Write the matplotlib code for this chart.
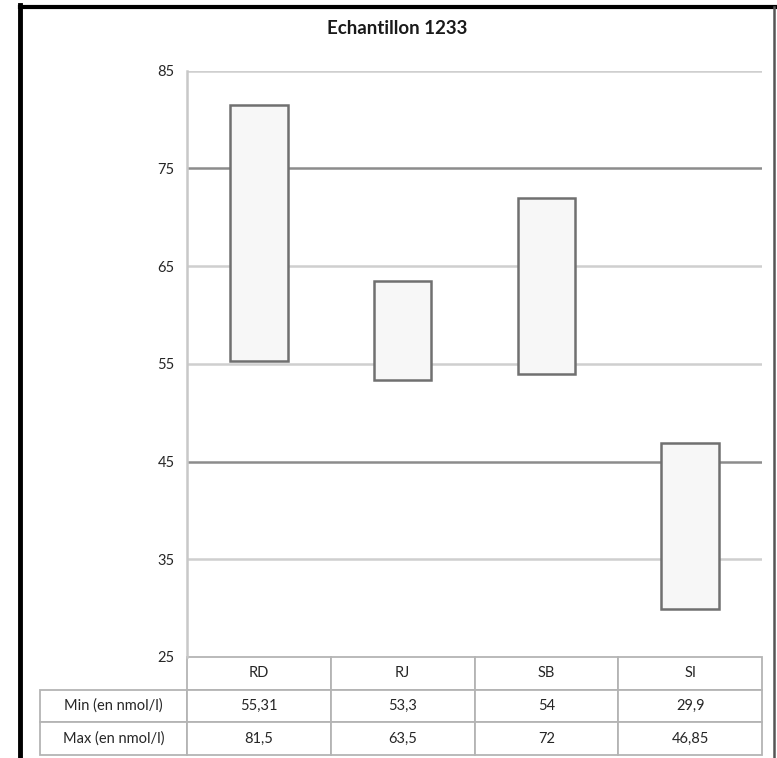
import matplotlib.pyplot as plt
from matplotlib.lines import Line2D

plt.rcParams['font.family'] = ['Lato', 'DejaVu Sans']

# data
categories = ['RD', 'RJ', 'SB', 'SI']
min_values = [55.31, 53.3, 54, 29.9]
max_values = [81.5, 63.5, 72, 46.85]
min_labels = ['55,31', '53,3', '54', '29,9']
max_labels = ['81,5', '63,5', '72', '46,85']
row_labels = ['Min (en nmol/l)', 'Max (en nmol/l)']
y_ticks = [25, 35, 45, 55, 65, 75, 85]

W, H = 777, 758
fig = plt.figure(figsize=(W / 100, H / 100), dpi=100)

# plot area in pixels
left, right, top, bottom = 187, 762, 70.7, 657
ax = fig.add_axes([left / W, 1 - bottom / H, (right - left) / W, (bottom - top) / H])

x = range(len(categories))
heights = [mx - mn for mn, mx in zip(min_values, max_values)]
ax.bar(x, heights, bottom=min_values, width=0.4, color='#f7f7f7',
       edgecolor='#707070', linewidth=1.8, zorder=3)

ax.set_xlim(-0.5, len(categories) - 0.5)
ax.set_ylim(25, 85)

# gridlines (75 and 45 look darker in the original)
for t in y_ticks[1:]:
    col = '#8c8c8c' if t in (45, 75) else '#cfcfcf'
    ax.axhline(t, color=col, linewidth=1.8, zorder=1)

ax.set_yticks(y_ticks)
ax.set_yticklabels([str(t) for t in y_ticks], fontsize=10.5, color='#262626')
ax.tick_params(axis='y', length=0, pad=9)
ax.set_xticks([])
for s in ['top', 'right', 'bottom']:
    ax.spines[s].set_visible(False)
ax.spines['left'].set_color('#c8c8c8')
ax.spines['left'].set_linewidth(1.8)

# data table under the plot, row labels as the first column
lab_w = (left - 40) / (right - left)
tab_h = (755 - bottom) / (bottom - top)
cell_text = [[row_labels[0]] + min_labels, [row_labels[1]] + max_labels]
tbl = ax.table(cellText=cell_text, colLabels=[''] + categories,
               cellLoc='center', colLoc='center',
               colWidths=[lab_w] + [0.25] * 4,
               bbox=[-lab_w, -tab_h, 1 + lab_w, tab_h])
tbl.auto_set_font_size(False)
for (r, c), cell in tbl.get_celld().items():
    cell.set_edgecolor('#b4b4b4')
    cell.set_linewidth(1.3)
    cell.get_text().set_fontsize(10.5)
    cell.get_text().set_color('#262626')
tbl[0, 0].set_visible(False)

fig.text(397 / W, 1 - 28 / H, 'Echantillon 1233', ha='center', va='center',
         fontsize=13.5, fontweight='bold', color='#1a1a1a')

# outer frame of the chart
fig.add_artist(Line2D([20 / W, 1], [1 - 6.5 / H] * 2, color='black', linewidth=3))
fig.add_artist(Line2D([20 / W] * 2, [0, 1 - 5 / H], color='black', linewidth=3.5))
fig.add_artist(Line2D([773.5 / W] * 2, [0, 1 - 7 / H], color='#555555', linewidth=1.8))

fig.savefig('out.png', dpi=100)
